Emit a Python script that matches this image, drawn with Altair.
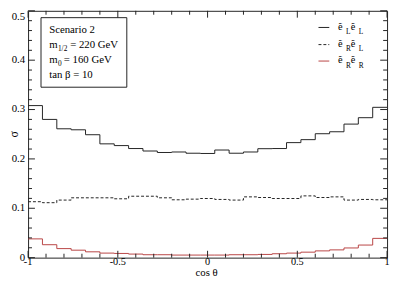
import altair as alt
import pandas as pd

# ---------------- data ----------------
n_bins = 25
x_lo, x_hi = -1.0, 1.0

ll_values = [0.308, 0.280, 0.261, 0.259, 0.249, 0.2305, 0.227, 0.221, 0.216, 0.213,
             0.214, 0.2115, 0.211, 0.218, 0.2115, 0.214, 0.2207, 0.221, 0.233, 0.239,
             0.251, 0.255, 0.2705, 0.2835, 0.3045]
rl_values = [0.1133, 0.1113, 0.1166, 0.1212, 0.1212, 0.1212, 0.1192, 0.1244, 0.1244, 0.1212,
             0.1172, 0.1185, 0.1198, 0.1179, 0.1166, 0.1231, 0.1218, 0.1198, 0.1198, 0.1251,
             0.1218, 0.1231, 0.1166, 0.1179, 0.1172]
rr_values = [0.038, 0.0262, 0.0183, 0.0151, 0.0118, 0.0092, 0.0085, 0.0072, 0.0059, 0.0059,
             0.0052, 0.0052, 0.0052, 0.0052, 0.0059, 0.0059, 0.0065, 0.0079, 0.0092, 0.0111,
             0.0137, 0.0157, 0.0196, 0.0255, 0.039]

series_names = ["LL", "RL", "RR"]
legend_subs = [("L", "L"), ("R", "L"), ("R", "R")]

x_major = [-1, -0.5, 0, 0.5, 1]
x_major_labels = ["-1", "-0.5", "0", "0.5", "1"]
x_minor = [-0.9, -0.8, -0.7, -0.6, -0.4, -0.3, -0.2, -0.1,
           0.1, 0.2, 0.3, 0.4, 0.6, 0.7, 0.8, 0.9]
y_major = [0, 0.1, 0.2, 0.3, 0.4, 0.5]
y_major_labels = ["0", "0.1", "0.2", "0.3", "0.4", "0.5"]
y_minor = [0.02, 0.04, 0.06, 0.08, 0.12, 0.14, 0.16, 0.18, 0.22, 0.24, 0.26, 0.28,
           0.32, 0.34, 0.36, 0.38, 0.42, 0.44, 0.46, 0.48]

x_title = "cos θ"
y_title = "σ"
info_title = "Scenario 2"
info_m12 = "= 220 GeV"
info_m0 = "= 160 GeV"
info_tanb = "tan β = 10"

# ---------------- build tables ----------------
edges = [x_lo + i * (x_hi - x_lo) / n_bins for i in range(n_bins + 1)]
rows = []
for name, vals in zip(series_names, [ll_values, rl_values, rr_values]):
    ys = list(vals) + [vals[-1]]
    for x, y in zip(edges, ys):
        rows.append({"x": x, "sigma": y, "series": name})
df = pd.DataFrame(rows)

W, H = 366.5, 252
FONT = "Liberation Serif"
FRAME = "#222222"
RED = "#b84444"

xscale = alt.Scale(domain=[-1, 1], nice=False, zero=False)
yscale = alt.Scale(domain=[0, 0.5], nice=False, zero=False)


def X(field):
    return alt.X(field, type="quantitative", scale=xscale, axis=None)


def Y(field):
    return alt.Y(field, type="quantitative", scale=yscale, axis=None)


def hist(name, color, dash=None):
    kw = dict(interpolate="step-after", color=color, strokeWidth=1)
    if dash:
        kw["strokeDash"] = dash
    return alt.Chart(df).transform_filter(alt.datum.series == name).mark_line(**kw).encode(
        x=X("x"), y=Y("sigma"))


def ticks(values, side, length):
    d = pd.DataFrame({"v": values})
    base = alt.Chart(d).mark_rule(color=FRAME, strokeWidth=1)
    if side == "left":
        return base.encode(x=alt.value(0), x2=alt.value(length), y=Y("v"))
    if side == "right":
        return base.encode(x=alt.value(W), x2=alt.value(W - length), y=Y("v"))
    if side == "bottom":
        return base.encode(y=alt.value(H), y2=alt.value(H - length), x=X("v"))
    return base.encode(y=alt.value(0), y2=alt.value(length), x=X("v"))


one = alt.Data(values=[{}])


def txt(s, x, y, size=11, align="left", baseline="alphabetic", angle=0):
    kw = dict(font=FONT, fontSize=size, align=align, baseline=baseline, color="black")
    if angle:
        kw["angle"] = angle
    return alt.Chart(one).mark_text(**kw).encode(x=alt.value(x), y=alt.value(y), text=alt.value(s))


def seg(x1, x2, y, color, dash=None):
    kw = dict(color=color, strokeWidth=1)
    if dash:
        kw["strokeDash"] = dash
    return alt.Chart(one).mark_rule(**kw).encode(x=alt.value(x1), x2=alt.value(x2), y=alt.value(y))


layers = [
    hist("LL", "#222222"),
    hist("RL", "#222222", [3, 2]),
    hist("RR", RED),
]
for side in ["left", "right"]:
    layers.append(ticks(y_major, side, 7))
    layers.append(ticks(y_minor, side, 4))
for side in ["bottom", "top"]:
    layers.append(ticks(x_major, side, 7))
    layers.append(ticks(x_minor, side, 4))

# tick labels
ylab = pd.DataFrame({"v": y_major[:-1], "t": y_major_labels[:-1]})
layers.append(alt.Chart(ylab).mark_text(font=FONT, fontSize=11, align="right", baseline="middle",
                                        color="black").encode(x=alt.value(-3), y=Y("v"), text="t:N"))
layers.append(txt(y_major_labels[-1], -3, 6, size=11, align="right", baseline="middle"))
xlab = pd.DataFrame({"v": x_major, "t": x_major_labels})
layers.append(alt.Chart(xlab).mark_text(font=FONT, fontSize=10.5, align="center", baseline="alphabetic",
                                        color="black").encode(x=X("v"), y=alt.value(H + 8), text="t:N"))
# axis titles
layers.append(txt(x_title, W / 2 - 1, 271, size=11, align="center"))
layers.append(txt(y_title, -14, 126, size=12, align="center", baseline="middle", angle=270))

# info box
layers.append(alt.Chart(one).mark_rect(fillOpacity=0, stroke=FRAME, strokeWidth=1).encode(
    x=alt.value(13.2), x2=alt.value(100.8), y=alt.value(7), y2=alt.value(78)))
layers += [
    txt(info_title, 21.5, 22.7),
    txt("m", 21.5, 38),
    txt("1/2", 30.5, 41, size=7.5),
    txt(info_m12, 43, 38),
    txt("m", 21.5, 53.7),
    txt("0", 30.5, 56.7, size=7.5),
    txt(info_m0, 36.5, 53.7),
    txt(info_tanb, 21.5, 68.7),
]

# legend
leg_y = [17, 34.5, 51.3]
leg_styles = [("#222222", None), ("#222222", [3, 2]), (RED, None)]
for (c, dsh), yy, (s1, s2) in zip(leg_styles, leg_y, legend_subs):
    layers.append(seg(296.5, 307.5, yy, c, dsh))
    layers.append(txt("ẽ", 316.5, yy + 2.3, size=10.5))
    layers.append(txt(s1, 324.5, yy + 6.7, size=7.5))
    layers.append(txt("ẽ", 329.5, yy + 2.3, size=10.5))
    layers.append(txt(s2, 337.5, yy + 6.7, size=7.5))

chart = alt.layer(*layers).properties(
    width=W, height=H,
    autosize=alt.AutoSizeParams(type="none"),
    padding={"left": 20.5, "top": 0, "right": 3, "bottom": 22},
).configure_view(stroke=FRAME, strokeWidth=1)

chart.save("out.html", embed_options={"renderer": "svg", "actions": False})
